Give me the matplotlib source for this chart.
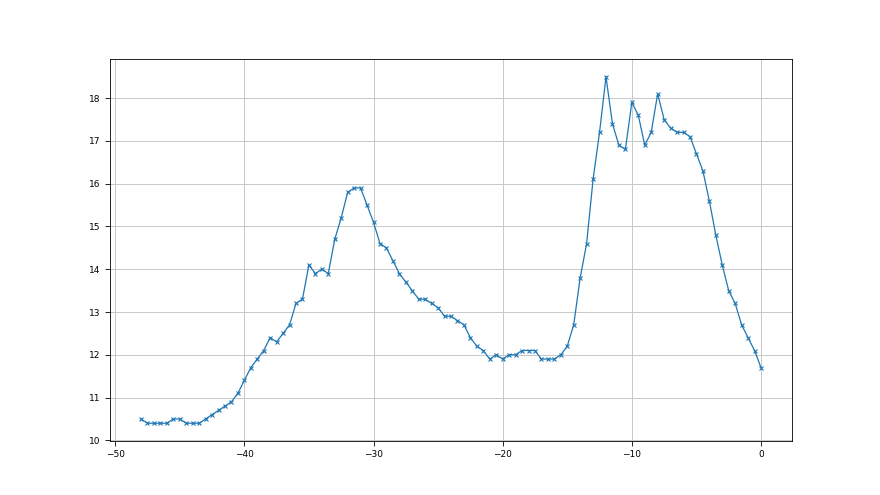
import numpy as np
import matplotlib
matplotlib.use('Agg')
from matplotlib import pyplot as plt

# x de -48 a 0, passo 0.5
x = [-48 + 0.5 * i for i in range(97)]
y = [10.5, 10.4, 10.4, 10.4, 10.4, 10.5, 10.5, 10.4, 10.4, 10.4,
     10.5, 10.6, 10.7, 10.8, 10.9, 11.1, 11.4, 11.7, 11.9, 12.1,
     12.4, 12.3, 12.5, 12.7, 13.2, 13.3, 14.1, 13.9, 14.0, 13.9,
     14.7, 15.2, 15.8, 15.9, 15.9, 15.5, 15.1, 14.6, 14.5, 14.2,
     13.9, 13.7, 13.5, 13.3, 13.3, 13.2, 13.1, 12.9, 12.9, 12.8,
     12.7, 12.4, 12.2, 12.1, 11.9, 12.0, 11.9, 12.0, 12.0, 12.1,
     12.1, 12.1, 11.9, 11.9, 11.9, 12.0, 12.2, 12.7, 13.8, 14.6,
     16.1, 17.2, 18.5, 17.4, 16.9, 16.8, 17.9, 17.6, 16.9, 17.2,
     18.1, 17.5, 17.3, 17.2, 17.2, 17.1, 16.7, 16.3, 15.6, 14.8,
     14.1, 13.5, 13.2, 12.7, 12.4, 12.1, 11.7]

fig = plt.figure(figsize=(8.8, 4.95), dpi=100)
ax = fig.add_subplot(111)
ax.plot(x, y, marker='x', lw=0.9, markersize=3.5, markeredgewidth=0.8)
ax.grid(True, color='#c8c8c8', lw=0.7)
for s in ax.spines.values():
    s.set_linewidth(0.6)
ax.tick_params(labelsize=6.5, width=0.6)
fig.savefig('out.png', dpi=100)
